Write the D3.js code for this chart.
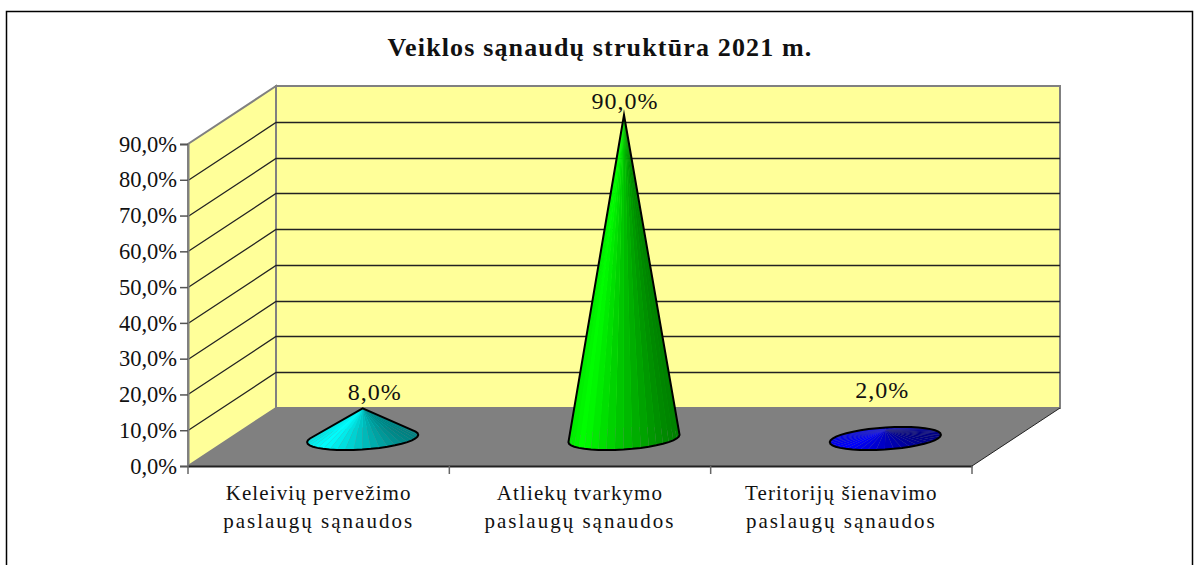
<!DOCTYPE html>
<html>
<head>
<meta charset="utf-8">
<style>
  html, body { margin: 0; padding: 0; background: #fff; overflow: hidden; }
  svg { display: block; }
  text { font-family: "Liberation Serif", serif; fill: #111; }
</style>
<script src="https://cdn.jsdelivr.net/npm/d3@7"></script>
</head>
<body>
<div id="chart"></div>
<script>
const title = 'Veiklos sąnaudų struktūra 2021 m.';
const categories = ['Keleivių pervežimo', 'Atliekų tvarkymo', 'Teritorijų šienavimo'];
const categorySecondLine = ['paslaugų sąnaudos', 'paslaugų sąnaudos', 'paslaugų sąnaudos'];
const values = [8, 90, 2];
const valueLabels = ['8,0%', '90,0%', '2,0%'];
const yTicks = [0, 10, 20, 30, 40, 50, 60, 70, 80, 90];
const coneColors = [[0, 255, 255], [0, 255, 0], [0, 0, 255]];

const width = 1194, height = 565;
const depthX = 88, depthY = 58;

const svg = d3.select('#chart').append('svg')
    .attr('width', width)
    .attr('height', height);

const x = d3.scaleBand().domain(categories).range([188, 972]);
const y = d3.scaleLinear().domain([0, 90]).range([466, 144]);
const comma = d3.format('.1f');
const pct = d => comma(d).replace('.', ',') + '%';

// outer frame, bottom edge runs off the picture
svg.append('rect')
    .attr('x', 6.5).attr('y', 11.5)
    .attr('width', 1186).attr('height', 570)
    .attr('fill', '#fff').attr('stroke', '#000').attr('stroke-width', 1.5);

svg.append('text')
    .attr('x', 600).attr('y', 56)
    .attr('text-anchor', 'middle')
    .attr('font-size', 26).attr('font-weight', 'bold')
    .attr('letter-spacing', 1.15)
    .text(title);

const x0 = x.range()[0], x1 = x.range()[1];
const yTop = y(d3.max(yTicks)), yBase = y(0);

// walls
svg.append('path')
    .attr('d', `M${x0},${yBase}L${x0},${yTop}L${x0 + depthX},${yTop - depthY}L${x0 + depthX},${yBase - depthY}Z`)
    .attr('fill', '#ffff99').attr('stroke', '#808080').attr('stroke-width', 2);
svg.append('rect')
    .attr('x', x0 + depthX).attr('y', yTop - depthY)
    .attr('width', x1 - x0).attr('height', yBase - yTop)
    .attr('fill', '#ffff99').attr('stroke', '#808080').attr('stroke-width', 2);

// gridlines on both walls
const grid = svg.append('g').attr('fill', 'none').attr('stroke', '#222').attr('stroke-width', 1.3);
yTicks.filter(t => t > 0 && t < 90).forEach(t => {
    const py = Math.round(y(t)) + 0.5;
    grid.append('path').attr('d', `M${x0},${py}L${x0 + depthX},${py - depthY}L${x1 + depthX},${py - depthY}`);
});

// floor
svg.append('path')
    .attr('d', `M${x0},${yBase}L${x1},${yBase}L${x1 + depthX},${yBase - depthY}L${x0 + depthX},${yBase - depthY}Z`)
    .attr('fill', '#808080');
svg.append('path')
    .attr('d', `M${x0 + depthX},${yBase - depthY}L${x1 + depthX},${yBase - depthY}`)
    .attr('stroke', '#808080').attr('stroke-width', 2);
svg.append('path')
    .attr('d', `M${x1},${yBase}L${x1 + depthX},${yBase - depthY}`)
    .attr('stroke', '#222').attr('stroke-width', 1);

// cones
const segments = 40;
const radiusX = 52.7, radiusZ = 0.2;
const midDepth = 0.5;
const baseDrop = 1.5;

function shade(color, t) {
    // brightest a little left of the front, dark towards the right
    const c = Math.cos(t);
    const f = c < -0.55 ? 0.9 + (c + 1) * 0.22 : 1 - (c + 0.55) * 0.32;
    return d3.rgb(color[0] * f, color[1] * f, color[2] * f).toString();
}

categories.forEach((cat, i) => {
    const cx = x(cat) + x.bandwidth() / 2 + depthX * midDepth;
    const cy = yBase - depthY * midDepth + baseDrop;
    const apex = [cx, y(values[i]) - depthY * midDepth];

    const ring = d3.range(segments).map(k => {
        const t = k / segments * 2 * Math.PI;
        const s = Math.sin(t);
        return {
            t: t,
            p: [cx + radiusX * Math.cos(t) + radiusZ * depthX * s, cy - radiusZ * depthY * s]
        };
    });

    const facets = ring.map((r, k) => ({ a: r, b: ring[(k + 1) % segments] }))
        .sort((f, g) => (f.a.p[1] + f.b.p[1]) - (g.a.p[1] + g.b.p[1]));

    const cone = svg.append('g').attr('class', 'cone');
    cone.selectAll('path.facet')
        .data(facets)
        .join('path')
        .attr('class', 'facet')
        .attr('d', d => 'M' + [apex, d.a.p, d.b.p].join('L') + 'Z')
        .attr('fill', d => shade(coneColors[i], d.a.t));

    const hull = d3.polygonHull(ring.map(r => r.p).concat([apex]));
    cone.append('path')
        .attr('d', 'M' + hull.join('L') + 'Z')
        .attr('fill', 'none')
        .attr('stroke', '#000').attr('stroke-width', 2)
        .attr('stroke-linejoin', 'miter')
        .attr('stroke-miterlimit', 8);
});

// value labels
const labelShiftX = [12, 1, -3];
const labelShiftY = [8, 6, 32];
svg.append('g').selectAll('text')
    .data(categories)
    .join('text')
    .attr('x', (d, i) => x(d) + x.bandwidth() / 2 + depthX * midDepth + labelShiftX[i])
    .attr('y', (d, i) => y(values[i]) - depthY * midDepth - labelShiftY[i])
    .attr('text-anchor', 'middle')
    .attr('font-size', 24)
    .attr('letter-spacing', 1)
    .text((d, i) => valueLabels[i]);

// axes
const yAxis = svg.append('g')
    .attr('transform', `translate(${x0},0)`)
    .call(d3.axisLeft(y).tickValues(yTicks).tickFormat(pct).tickSize(8).tickPadding(3));
yAxis.select('.domain').attr('stroke', '#808080').attr('stroke-width', 2);
yAxis.selectAll('.tick line').attr('stroke', '#555').attr('stroke-width', 1.5);
yAxis.selectAll('.tick text').attr('font-size', 22.5).attr('font-family', '"Liberation Serif", serif').attr('fill', '#111');

const xAxis = svg.append('g')
    .attr('transform', `translate(0,${yBase})`)
    .call(d3.axisBottom(x).tickSize(0).tickFormat(''));
xAxis.select('.domain').attr('stroke', '#222').attr('stroke-width', 2);
xAxis.selectAll('.tick').remove();

// ticks sit on the band edges
const xEdges = categories.map(c => x(c)).concat([x1]);
svg.append('g').selectAll('line')
    .data(xEdges)
    .join('line')
    .attr('x1', d => d).attr('x2', d => d)
    .attr('y1', yBase).attr('y2', yBase + 8)
    .attr('stroke', '#666').attr('stroke-width', 1.5);

const catLabels = svg.append('g').selectAll('text')
    .data(categories)
    .join('text')
    .attr('text-anchor', 'middle')
    .attr('font-size', 21);
catLabels.append('tspan')
    .attr('x', d => x(d) + x.bandwidth() / 2)
    .attr('y', 500)
    .attr('letter-spacing', 1.1)
    .text(d => d);
catLabels.append('tspan')
    .attr('x', d => x(d) + x.bandwidth() / 2)
    .attr('y', 528)
    .attr('letter-spacing', 2)
    .text((d, i) => categorySecondLine[i]);
</script>
</body>
</html>
